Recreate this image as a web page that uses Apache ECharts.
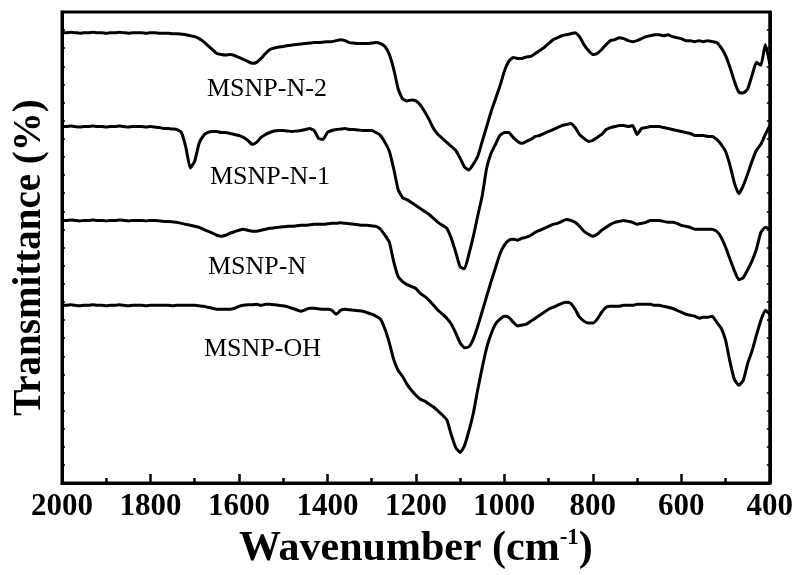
<!DOCTYPE html>
<html>
<head>
<meta charset="utf-8">
<script src="https://cdn.jsdelivr.net/npm/echarts@6/dist/echarts.min.js"></script>
<style>
html,body{margin:0;padding:0;background:#fff;}
#chart{width:796px;height:575px;}
</style>
</head>
<body>
<div id="chart"></div>
<script>
// Wavenumber grid (cm-1)
const wavenumbers = [
2000,1990,1980,1970,1960,1950,1940,1930,1920,1910,1900,1890,1880,1870,1860,1850,1840,1830,1820,1810,1800,1790,1780,
1770,1760,1750,1740,1730,1720,1710,1700,
1690,1680,1670,1660,1650,1640,1630,1620,1610,1600,
1590,1580,1570,1560,1550,1540,1530,1520,1510,1500,
1490,1480,1470,1460,1450,1440,1430,1420,1410,1400,
1390,1380,1370,1360,1350,1340,1330,1320,1310,1300,
1290,1280,1270,1260,1250,1240,1230,1220,1210,1200,
1190,1180,1170,1160,1150,1140,1130,1120,1110,1100,
1090,1080,1070,1060,1050,1040,1030,1020,1010,1000,
990,980,970,960,950,940,930,920,910,900,
890,880,870,860,850,840,830,820,810,800,
790,780,770,760,750,740,730,720,710,700,
690,680,670,660,650,640,630,620,610,600,
590,580,570,560,550,540,530,520,510,500,
490,480,470,460,450,440,430,420,410,400
];

// Transmittance (a.u., offset-stacked)
const msnpN2 = [
456,456,456.5,456,455.5,456,456,456.5,456,456,455.5,456,456,456.5,456,455.5,456,456,456,455.5,456,456,455.5,
455.5,455.5,455,455,454.5,454,453,452,
450,447,443,439,435,434,433.5,434,433,431,
429,427,425,426,430,435,439,440.5,441.5,442,
443,443.5,444,444.5,445,445.5,446,446,446.5,447,
447,448,449,448,446,445.5,445,445,445,445.5,
446,445,442,434,419,399,389,387,388,387,
383,376,368,359,353,349,345,341,337,329,
320,317,323,331,346,361,376,389,402,417,
427,431,430,430,431.5,432,435,438,441,445,
449,451,453,454,455,456,452,444,438,434,
435,439,444,448,449,451,450,448,447,448,
450,452,453,454,454,453,454,452,451,450,
448,448,447,448,447,448,447,446,441,433,
421,407,396,395,399,413,426,423,444,425
];
const msnpN1 = [
361,361,361.5,361,360.5,361,361,361.5,361,361,360.5,361,361,361.5,361,360.5,361,361,361,360.5,361,360.5,360,
359,359,358.5,358,355,340,319,326,
344,352,355,356,356,355,355,354,353,352,
350,347,343,345,350,353,355,356.5,357,357,
356.5,356,356.5,357,358,359,357,349,348,355,
357,358,358.5,359,358,358,357.5,357,357,357,
355,352,345,336,318,297,289,287,284,281,
278,275,272,268,264,261,258,248,234,219,
217,232,250,271,291,319,334,343,352,355,
355,350,346,344,346,348,351,352,354,356,
358,360,362,363,364,360,353,349,346,347,
350,353,358,360,361,362,362,361,362,353,
359,360,361,361,361,360,359,358,357,356,
355,354,352,352,352,351,351,348,343,336,
322,304,293,301,313,326,337,343,353,362
];
const msnpN = [
266,266,266.5,266,265.5,266,266,266.5,266,266,265.5,266,266,266.5,266,265.5,266,266,266,265.5,266,266,265.5,
265,265,264.5,264,263,262,261,260,
259,257,255,253,251,250,251,253,254.5,256,
257,256,255,255,256,257,258,258.5,259,259.5,
260,260,260.5,261,261,261.5,262,262,262,262.5,
263,263,263.5,263,262.5,262,261.5,261,261,260.5,
260,257,251,244,224,209,204,201,199,197,
192,189,185,180,175,171,167,161,152,142,
137,138,146,159,174,189,204,218,232,241,
246,247,246,248,249,251,254,256,258,260,
262,263,265,267,266,264,260,255,252,250,
252,256,259,262,264,265,266,265,264,262,
263,264,266,266,266,265,264,264,263,261,
260,259,257,257,257,257,257,255,249,239,
227,215,206,208,216,225,237,254,259,257
];
const msnpOH = [
180,180,180.5,180,179.5,180,180,180.5,180,180,179.5,180,180,180.5,180,179.5,180,180,180,179.5,180,180,180,
180,180,179.5,180,180,180,180,180,
179.5,179,178,177,176,176,176,176,177,179,
180,180.5,180.5,181,180,181,181,180.5,180,179.5,
178.5,177,175.5,174,175.5,177,177,176.5,176,176,
175,171,175,176,175.5,175,174.5,174,172.5,171,
169,166,156,142,125,114,108,100,94,89,
85,83,80,77,73,69,64,49,36,31,
38,53,71,95,117,137,151,161,166,169,
168,163,159,160,161,164,167,170,173,176,
178,180,182,183,182,176,168,164,162,162,
166,173,178,179,179,179,180,180,180,181,
181,181,181,180,180,179,178,177,175,173,
171,170,169,167,168,168,169,163,157,145,
123,105,99,104,121,134,150,165,175,171
];

const seriesNames = ['MSNP-N-2','MSNP-N-1','MSNP-N','MSNP-OH'];
const seriesValues = [msnpN2, msnpN1, msnpN, msnpOH];
const xTicks = {min: 400, max: 2000, step: 200};
const yRange = {min: 0, max: 477, divisions: 26};

const serif = '"Liberation Serif","Times New Roman",serif';
const chart = echarts.init(document.getElementById('chart'), null, {renderer: 'canvas', devicePixelRatio: 1});

const series = seriesValues.map((vals, k) => ({
  name: seriesNames[k],
  type: 'line',
  showSymbol: false,
  symbol: 'none',
  smooth: 0.15,
  animation: false,
  lineStyle: {color: '#000', width: 3},
  data: wavenumbers.map((w, i) => [w, vals[i]])
}));

const labelPos = [
  {x: 207, y: 89},
  {x: 210, y: 177},
  {x: 208, y: 267},
  {x: 204, y: 349}
];

const yTickCommon = {
  type: 'value',
  min: yRange.min,
  max: yRange.max,
  interval: (yRange.max - yRange.min) / yRange.divisions,
  axisLine: {show: true, lineStyle: {color: '#000', width: 3}},
  axisTick: {show: true, inside: true, length: 3, lineStyle: {color: '#000', width: 1.5}},
  axisLabel: {show: false},
  splitLine: {show: false}
};

chart.setOption({
  animation: false,
  backgroundColor: '#fff',
  grid: {left: 62, right: 24, top: 12, bottom: 86, show: true, borderColor: '#000', borderWidth: 3, containLabel: false},
  xAxis: {
    type: 'value',
    min: xTicks.min,
    max: xTicks.max,
    interval: xTicks.step,
    inverse: true,
    axisLine: {show: true, lineStyle: {color: '#000', width: 3}},
    axisTick: {show: true, inside: true, length: 9, lineStyle: {color: '#000', width: 2.5}},
    minorTick: {show: true, splitNumber: 2, length: 5, lineStyle: {color: '#000', width: 2.5}},
    axisLabel: {show: true, color: '#000', fontFamily: serif, fontWeight: 'bold', fontSize: 31, margin: 8,
      showMinLabel: true, showMaxLabel: true, hideOverlap: false,
      formatter: function (v) { return String(v); }},
    splitLine: {show: false},
    minorSplitLine: {show: false},
    name: '{a|Wavenumber (cm}{s|-1}{a|)}',
    nameLocation: 'middle',
    nameGap: 36,
    nameTextStyle: {
      color: '#000',
      padding: [0, 0, 0, 0],
      rich: {
        a: {fontFamily: serif, fontWeight: 'bold', fontSize: 42, color: '#000', lineHeight: 44},
        s: {fontFamily: serif, fontWeight: 'bold', fontSize: 23, color: '#000', verticalAlign: 'top', lineHeight: 26}
      }
    }
  },
  yAxis: [
    Object.assign({}, yTickCommon, {
      position: 'left',
      name: 'Transmittance (%)',
      nameLocation: 'middle',
      nameRotate: 90,
      nameGap: 13,
      nameTextStyle: {color: '#000', fontFamily: serif, fontWeight: 'bold', fontSize: 39, padding: [0, 20, 0, 0]}
    }),
    Object.assign({}, yTickCommon, {position: 'right'})
  ],
  series: series,
  graphic: seriesNames.map((n, k) => ({
    type: 'text',
    x: labelPos[k].x,
    y: labelPos[k].y,
    silent: true,
    style: {text: n, fill: '#000', fontFamily: serif, fontSize: 26, verticalAlign: 'middle', align: 'left'}
  }))
});
</script>
</body>
</html>
